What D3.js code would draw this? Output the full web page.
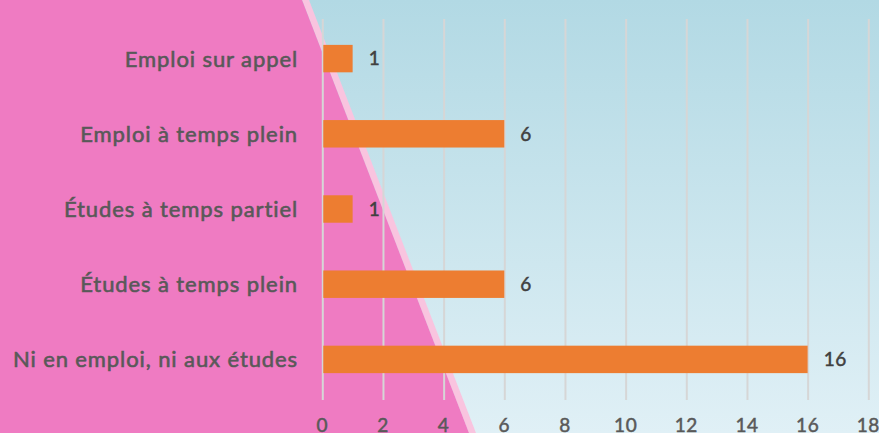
<!DOCTYPE html>
<html>
<head>
<meta charset="utf-8">
<script src="https://cdn.jsdelivr.net/npm/d3@7"></script>
<style>
  html, body { margin: 0; padding: 0; overflow: hidden; }
  svg { display: block; font-family: Lato, "Open Sans", sans-serif; }
</style>
</head>
<body>
<svg></svg>
<script>
const categories = [
  "Emploi sur appel",
  "Emploi à temps plein",
  "Études à temps partiel",
  "Études à temps plein",
  "Ni en emploi, ni aux études"
];
const values = [1, 6, 1, 6, 16];
const xTicks = [0, 2, 4, 6, 8, 10, 12, 14, 16, 18];

const width = 879, height = 433;

const svg = d3.select('svg')
    .attr('width', width)
    .attr('height', height);

// background: blue gradient with a pink slanted panel on the left
const defs = svg.append('defs');
const grad = defs.append('linearGradient')
    .attr('id', 'bg')
    .attr('x1', 0).attr('y1', 0).attr('x2', 0).attr('y2', 1);
grad.append('stop').attr('offset', '0%').attr('stop-color', '#b2d9e4');
grad.append('stop').attr('offset', '100%').attr('stop-color', '#e0f0f6');

svg.append('rect')
    .attr('width', width).attr('height', height)
    .attr('fill', 'url(#bg)');

svg.append('polygon')
    .attr('points', '302,0 309,0 476,433 469,433')
    .attr('fill', '#f9c4df');

svg.append('polygon')
    .attr('points', '0,0 302,0 469,433 0,433')
    .attr('fill', '#ef7bc2');

const x = d3.scaleLinear()
    .domain([0, 18])
    .range([322.3, 868.3]);

const y = d3.scaleBand()
    .domain(categories)
    .range([21, 397])
    .paddingInner(0.635)
    .paddingOuter(0.3175);

const gridTop = 19, gridBottom = 400;

// vertical gridlines
svg.append('g')
    .attr('class', 'grid')
    .attr('transform', `translate(0,${gridBottom})`)
    .call(d3.axisBottom(x)
        .tickValues(xTicks)
        .tickSize(-(gridBottom - gridTop))
        .tickFormat(''))
    .call(g => g.select('.domain').remove())
    .call(g => g.selectAll('line')
        .attr('stroke', '#d6d6d6')
        .attr('stroke-width', 2));

// tick labels (partly below the bottom edge, as in the original)
svg.append('g')
    .selectAll('text')
    .data(xTicks)
    .enter().append('text')
    .attr('x', d => x(d))
    .attr('y', 432)
    .attr('text-anchor', 'middle')
    .attr('font-size', 19)
    .attr('letter-spacing', 0.5)
    .attr('fill', '#595959')
    .attr('stroke', '#595959')
    .attr('stroke-width', 0.5)
    .text(d => d);

// bars
svg.append('g')
    .selectAll('rect')
    .data(values)
    .enter().append('rect')
    .attr('x', x(0) + 1)
    .attr('y', (d, i) => y(categories[i]))
    .attr('width', d => x(d) - x(0) - 1)
    .attr('height', y.bandwidth())
    .attr('fill', '#ed7d31');

// value labels
svg.append('g')
    .selectAll('text')
    .data(values)
    .enter().append('text')
    .attr('x', d => x(d) + 16)
    .attr('y', (d, i) => y(categories[i]) + y.bandwidth() / 2)
    .attr('dy', '0.36em')
    .attr('font-size', 19)
    .attr('letter-spacing', 0.5)
    .attr('fill', '#404040')
    .attr('stroke', '#404040')
    .attr('stroke-width', 0.5)
    .text(d => d);

// category labels
svg.append('g')
    .selectAll('text')
    .data(categories)
    .enter().append('text')
    .attr('x', 298)
    .attr('y', d => y(d) + y.bandwidth() / 2)
    .attr('dy', '0.36em')
    .attr('text-anchor', 'end')
    .attr('font-size', 22)
    .attr('letter-spacing', 0.9)
    .attr('fill', '#595959')
    .attr('stroke', '#595959')
    .attr('stroke-width', 0.6)
    .text(d => d);
</script>
</body>
</html>
